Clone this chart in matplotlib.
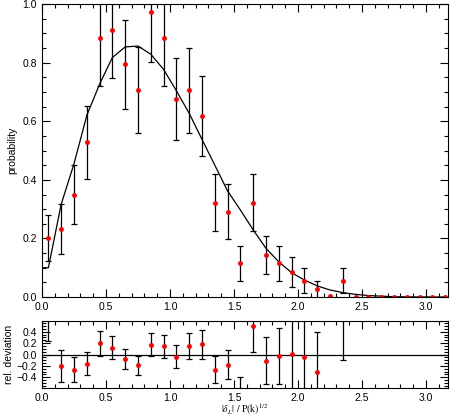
import numpy as np
import matplotlib
matplotlib.use("Agg")
import matplotlib.pyplot as plt
from matplotlib.ticker import MultipleLocator

plt.rcParams['font.family'] = ['Liberation Sans', 'DejaVu Sans']
plt.rcParams['mathtext.fontset'] = 'stix'

# bin centres
x = np.round(np.arange(0.05, 3.2, 0.1), 2)

# measured probability and symmetric errors
prob = [0.202, 0.232, 0.350, 0.528, 0.883, 0.912, 0.794, 0.706, 0.972, 0.883,
        0.676, 0.706, 0.617, 0.322, 0.292, 0.115, 0.322, 0.143, 0.115, 0.084,
        0.056, 0.026, 0.002, 0.056, 0.0, 0.0, 0.0, 0.0, 0.0, 0.0, 0.0, 0.0]
perr = [0.078, 0.084, 0.101, 0.124, 0.162, 0.165, 0.153, 0.147, 0.170, 0.162,
        0.141, 0.145, 0.136, 0.098, 0.094, 0.059, 0.098, 0.066, 0.059, 0.051,
        0.043, 0.030, np.nan, 0.043, np.nan, np.nan, np.nan, np.nan, np.nan,
        np.nan, np.nan, np.nan]

# model curve at bin centres
model_x = np.concatenate([[0.0], x])
model = [0.100, 0.100, 0.317, 0.455, 0.620, 0.727, 0.818, 0.854, 0.857, 0.829,
         0.777, 0.704, 0.627, 0.538, 0.450, 0.362, 0.297, 0.229, 0.166, 0.120,
         0.083, 0.058, 0.038, 0.024, 0.015, 0.009, 0.005, 0.003, 0.001, 0.0005,
         0.0002, 0.0001, 0.0]

# relative deviation and errors
rel = [1.02, -0.207, -0.266, -0.16, 0.195, 0.118, -0.083, -0.19, 0.172, 0.142,
       -0.035, 0.148, 0.178, -0.266, -0.178, -0.62, 0.497, -0.107, -0.024, 0.006,
       -0.04, -0.31, np.nan, 2.7]
relerr = [0.78, 0.285, 0.22, 0.205, 0.22, 0.2, 0.18, 0.17, 0.205, 0.21,
          0.205, 0.235, 0.26, 0.24, 0.26, 0.22, 0.46, 0.41, 0.49, 0.8,
          0.8, 0.7, np.nan, 2.8]
xrel = x[:len(rel)]

fig = plt.figure(figsize=(4.56, 4.16), dpi=100)
ax1 = fig.add_axes([0.0921, 0.286, 0.890, 0.704])
ax2 = fig.add_axes([0.0921, 0.0673, 0.890, 0.161])

fs = 7.5
for ax in (ax1, ax2):
    ax.tick_params(which='both', direction='in', top=True, right=True,
                   labelsize=fs, width=0.8)
    ax.tick_params(which='major', length=6)
    ax.tick_params(which='minor', length=3)
    ax.xaxis.set_major_locator(MultipleLocator(0.5))
    ax.xaxis.set_minor_locator(MultipleLocator(0.1))
    ax.set_xlim(0, 3.17)
    for s in ax.spines.values():
        s.set_linewidth(0.8)

ax1.plot(model_x, model, color='black', lw=0.9)
ax1.errorbar(x, prob, yerr=perr, fmt='o', color='red', ms=2.5,
             ecolor='black', elinewidth=0.9, capsize=2.5, capthick=0.9)
ax1.set_ylim(0, 1.0)
ax1.yaxis.set_major_locator(MultipleLocator(0.2))
ax1.yaxis.set_minor_locator(MultipleLocator(0.05))
ax1.set_ylabel('probability', fontsize=fs)

ax2.axhline(0, color='black', lw=0.9)
ax2.errorbar(xrel, rel, yerr=relerr, fmt='o', color='red', ms=2.5,
             ecolor='black', elinewidth=0.9, capsize=2.5, capthick=0.9)
ax2.set_ylim(-0.59, 0.59)
ax2.yaxis.set_major_locator(MultipleLocator(0.2))
ax2.yaxis.set_minor_locator(MultipleLocator(0.05))
ax2.set_ylabel('rel. deviation', fontsize=fs, labelpad=2)
ax2.set_xlabel(r'$|\delta_L|\ /\ \mathrm{P(k)}^{1/2}$', fontsize=7)
ax2.xaxis.set_label_coords(0.5, -0.2)

fig.savefig('out.png', dpi=100)
